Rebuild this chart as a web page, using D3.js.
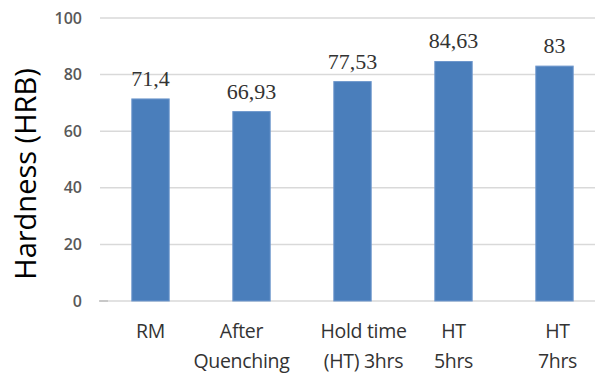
<!DOCTYPE html>
<html>
<head>
<meta charset="utf-8">
<script src="https://cdn.jsdelivr.net/npm/d3@7"></script>
<style>
  html, body { margin: 0; padding: 0; background: #fff; }
  svg { display: block; }
</style>
</head>
<body>
<svg id="chart" width="595" height="374"></svg>
<script>
// Hardness measurements per treatment stage
const categories = ["RM", "After Quenching", "Hold time (HT) 3hrs", "HT 5hrs", "HT 7hrs"];
const categoryLines = [["RM"], ["After", "Quenching"], ["Hold time", "(HT) 3hrs"], ["HT", "5hrs"], ["HT", "7hrs"]];
const hardness = [71.4, 66.93, 77.53, 84.63, 83];
const valueLabels = ["71,4", "66,93", "77,53", "84,63", "83"];
const yTicks = [0, 20, 40, 60, 80, 100];

const svg = d3.select("#chart");

const x = d3.scaleBand()
  .domain(categories)
  .range([100, 605])
  .paddingInner(0.63)
  .paddingOuter(0.315);

const y = d3.scaleLinear()
  .domain([0, 100])
  .range([301, 18]);

// Horizontal gridlines
svg.append("g")
  .selectAll("line")
  .data(yTicks)
  .join("line")
  .attr("x1", 100)
  .attr("x2", 595)
  .attr("y1", d => y(d))
  .attr("y2", d => y(d))
  .attr("stroke", "#d9d9d9")
  .attr("stroke-width", 1.5);

// Short tick at the baseline
svg.append("line")
  .attr("x1", 99).attr("x2", 108)
  .attr("y1", y(0)).attr("y2", y(0))
  .attr("stroke", "#bfbfbf")
  .attr("stroke-width", 1.5);

// Y axis tick labels
const yAxis = d3.axisLeft(y).tickValues(yTicks).tickSize(0).tickPadding(0);
const yg = svg.append("g")
  .attr("transform", "translate(82,0)")
  .call(yAxis);
yg.select(".domain").remove();
yg.selectAll("text")
  .attr("font-family", "'Open Sans', sans-serif")
  .attr("font-size", 16)
  .attr("font-weight", 600)
  .attr("fill", "#595959");

// Bars
svg.append("g")
  .selectAll("rect")
  .data(hardness)
  .join("rect")
  .attr("x", (d, i) => x(categories[i]))
  .attr("y", d => y(d))
  .attr("width", x.bandwidth())
  .attr("height", d => y(0) - y(d))
  .attr("fill", "#4a7ebb")
  .attr("stroke", "#6e97cc")
  .attr("stroke-width", 1);

// Value labels above bars
svg.append("g")
  .selectAll("text")
  .data(hardness)
  .join("text")
  .attr("x", (d, i) => x(categories[i]) + x.bandwidth() / 2)
  .attr("y", d => y(d) - 13)
  .attr("text-anchor", "middle")
  .attr("font-family", "'Liberation Serif', 'Times New Roman', serif")
  .attr("font-size", 22)
  .attr("fill", "#333")
  .text((d, i) => valueLabels[i]);

// Category labels (wrapped); the two long labels are nudged apart
const labelNudge = [0, -10, 11, 0, 3];
const cat = svg.append("g")
  .selectAll("text")
  .data(categories)
  .join("text")
  .attr("x", (d, i) => x(d) + x.bandwidth() / 2 + labelNudge[i])
  .attr("y", 338)
  .attr("text-anchor", "middle")
  .attr("font-family", "'Open Sans', sans-serif")
  .attr("font-size", 19.5)
  .attr("letter-spacing", -0.3)
  .attr("fill", "#333");
cat.selectAll("tspan")
  .data((d, i) => categoryLines[i])
  .join("tspan")
  .attr("x", function () { return d3.select(this.parentNode).attr("x"); })
  .attr("dy", (d, i) => i === 0 ? 0 : 30)
  .text(d => d);

// Y axis title
svg.append("text")
  .attr("transform", "translate(36,174) rotate(-90)")
  .attr("text-anchor", "middle")
  .attr("font-family", "'Open Sans', sans-serif")
  .attr("font-size", 29)
  .attr("fill", "#000")
  .text("Hardness (HRB)");
</script>
</body>
</html>
